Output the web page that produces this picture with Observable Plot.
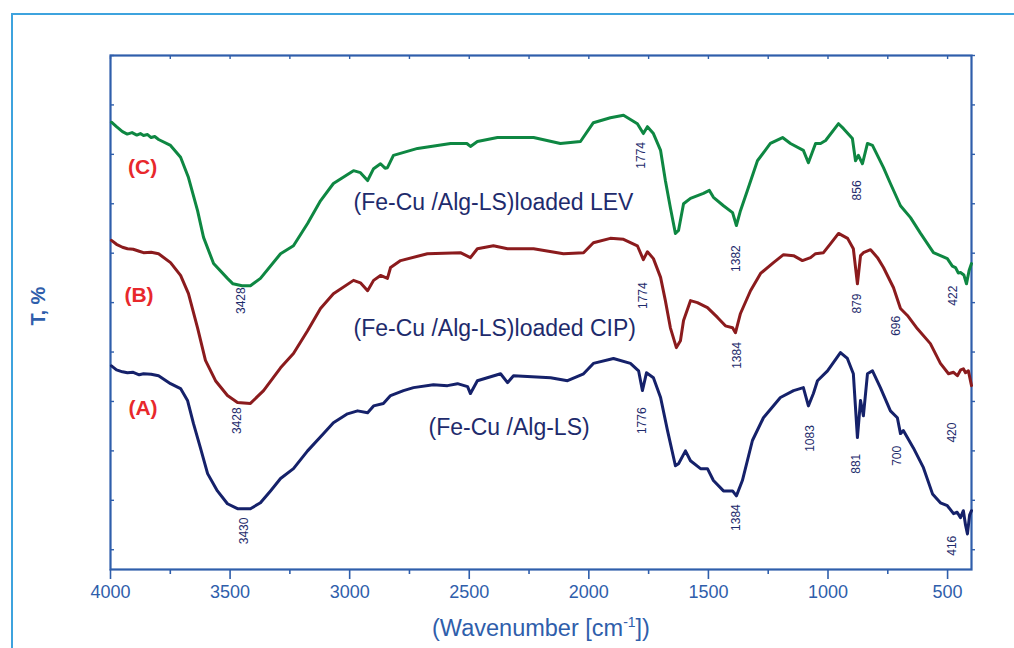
<!DOCTYPE html>
<html><head><meta charset="utf-8">
<script src="https://cdn.jsdelivr.net/npm/d3@7"></script>
<script src="https://cdn.jsdelivr.net/npm/@observablehq/plot@0.6"></script>
<style>
body{margin:0;background:#fff;}
#wrap{position:relative;width:1014px;height:648px;overflow:hidden;font-family:"Liberation Sans",Arial,sans-serif;}
#border{position:absolute;left:11px;top:13px;width:1100px;height:800px;border-top:2px solid #3ea3de;border-left:2px solid #3ea3de;box-sizing:border-box;}
#wrap svg{position:absolute;left:0;top:0;}
</style></head><body><div id="wrap"><div id="border"></div></div>
<script>
// ---- data: [wavenumber (cm-1), transmittance (arbitrary offset %)] ----
const seriesC = [[3996,86.5],[3975,85.6],[3950,84.6],[3930,84.1],[3910,84.4],[3890,83.9],[3875,84.2],[3862,83.8],[3845,84.0],[3830,83.4],[3815,83.6],[3799,83.0],[3749,81.8],[3707,79.4],[3674,75.3],[3636,68.6],[3611,63.2],[3569,57.9],[3511,54.9],[3488,53.8],[3450,53.4],[3415,53.4],[3373,54.9],[3289,59.9],[3235,61.5],[3176,66.0],[3122,70.6],[3068,74.1],[2984,76.7],[2955,76.3],[2925,74.7],[2900,77.1],[2871,78.1],[2852,77.2],[2842,77.3],[2817,79.8],[2716,81.2],[2578,82.2],[2510,82.2],[2495,81.6],[2466,82.6],[2382,83.4],[2340,83.4],[2231,83.4],[2119,82.2],[2035,82.6],[1981,86.4],[1910,87.4],[1855,87.9],[1797,86.2],[1772,84.2],[1755,85.6],[1730,84.2],[1700,80.8],[1680,74.7],[1659,69.2],[1638,64.0],[1625,64.6],[1604,70.0],[1575,71.1],[1521,72.1],[1496,72.7],[1479,71.3],[1437,69.6],[1399,68.2],[1383,65.6],[1366,68.6],[1337,72.7],[1295,78.7],[1241,82.2],[1190,83.4],[1157,82.2],[1103,80.8],[1082,78.3],[1052,82.2],[1031,82.2],[1010,82.8],[956,86.2],[935,85.2],[898,83.2],[885,78.7],[873,79.8],[856,78.1],[835,82.2],[814,81.8],[768,77.3],[739,74.1],[697,69.6],[655,67.2],[613,64.0],[559,60.1],[520,59.3],[501,58.9],[480,57.4],[467,57.1],[455,56.0],[446,56.1],[432,55.6],[421,53.8],[410,56.5],[400,57.9]];

const seriesB = [[3996,62.6],[3975,61.8],[3950,61.2],[3929,60.9],[3905,60.8],[3880,60.4],[3862,60.1],[3830,60.2],[3799,59.9],[3749,58.1],[3707,55.5],[3674,51.8],[3636,44.9],[3603,38.3],[3561,34.2],[3511,31.2],[3469,29.8],[3415,29.6],[3360,32.2],[3289,36.8],[3235,39.7],[3176,44.3],[3122,48.8],[3068,51.8],[2984,54.5],[2955,54.0],[2925,52.4],[2900,54.5],[2871,55.5],[2842,54.9],[2829,57.1],[2787,58.5],[2675,59.9],[2537,60.1],[2495,59.1],[2466,60.9],[2399,61.5],[2340,60.9],[2231,60.9],[2106,59.9],[2022,60.1],[1981,62.1],[1910,63.0],[1855,62.8],[1797,61.5],[1772,58.7],[1755,60.3],[1730,58.9],[1700,55.1],[1680,50.4],[1659,44.9],[1634,40.9],[1617,42.3],[1604,46.4],[1575,50.4],[1546,50.0],[1504,49.0],[1462,47.0],[1429,45.3],[1399,44.9],[1387,43.9],[1366,47.8],[1324,52.4],[1282,55.9],[1228,58.1],[1186,59.7],[1144,59.5],[1107,58.5],[1073,59.1],[1052,59.9],[1019,60.1],[990,61.9],[956,64.0],[918,63.0],[894,60.9],[877,53.8],[864,59.5],[852,60.1],[822,60.7],[793,59.1],[768,57.1],[726,53.0],[697,48.8],[668,47.4],[626,44.7],[572,41.7],[530,37.7],[496,35.6],[475,35.9],[459,35.2],[445,36.4],[434,36.6],[425,35.8],[413,36.2],[400,33.2]];

const seriesA = [[3996,37.2],[3975,36.4],[3950,36.0],[3929,35.8],[3905,35.9],[3880,35.4],[3862,35.6],[3830,35.5],[3799,35.2],[3749,33.6],[3707,32.6],[3678,30.2],[3653,25.5],[3624,20.6],[3594,15.4],[3553,11.9],[3511,9.3],[3469,8.3],[3415,8.3],[3373,9.5],[3331,11.9],[3289,14.4],[3235,16.4],[3176,20.0],[3109,23.5],[3068,25.7],[3009,27.5],[2967,28.1],[2925,27.7],[2900,29.1],[2859,29.6],[2829,31.2],[2775,32.2],[2733,32.8],[2650,33.4],[2591,33.2],[2549,33.6],[2507,33.0],[2495,31.6],[2466,34.2],[2369,35.6],[2340,33.8],[2315,35.2],[2160,34.8],[2089,34.2],[2022,35.6],[1981,37.7],[1897,38.7],[1826,37.7],[1792,36.2],[1776,32.2],[1759,35.8],[1730,34.8],[1700,30.8],[1671,24.1],[1638,17.0],[1625,17.4],[1596,20.0],[1575,18.0],[1533,16.4],[1504,16.4],[1479,14.0],[1437,11.9],[1399,11.9],[1383,10.9],[1358,14.0],[1316,22.1],[1270,26.7],[1199,30.8],[1144,32.2],[1103,32.8],[1082,29.1],[1061,31.6],[1044,34.2],[1002,36.2],[948,39.9],[919,38.7],[894,35.6],[877,22.7],[864,30.2],[852,27.1],[835,35.6],[814,36.2],[781,32.8],[739,28.1],[710,26.7],[697,23.5],[685,24.1],[643,20.6],[601,16.6],[563,11.3],[530,9.5],[501,8.9],[475,7.3],[460,7.6],[446,6.5],[434,7.9],[425,5.0],[417,3.2],[408,7.0],[400,7.9]];

// peak labels [x position, y position, text]
const peaksC = [[3452,50.4,"3428"],[1780,79.8,"1774"],[1383,58.9,"1382"],[877,72.7,"856"],[475,51.4,"422"]];
const peaksB = [[3469,26.1,"3428"],[1772,51.4,"1774"],[1379,39.3,"1384"],[877,49.8,"879"],[714,45.3,"696"],[480,23.7,"420"]];
const peaksA = [[3440,3.8,"3430"],[1776,26.1,"1776"],[1383,6.5,"1384"],[1073,22.5,"1083"],[881,17.4,"881"],[710,19.0,"700"],[480,0.8,"416"]];

// series tags and names
const tags = [[3866,77.3,"(C)"],[3881,51.4,"(B)"],[3864,28.7,"(A)"]];
const names = [[2984,70.2,"(Fe-Cu /Alg-LS)loaded LEV"],[2984,44.7,"(Fe-Cu /Alg-LS)loaded CIP)"],[2670,24.7,"(Fe-Cu /Alg-LS)"]];

const xMajor = [4000,3500,3000,2500,2000,1500,1000,500];
const xMinor = [3750,3250,2750,2250,1750,1250,750];
const yTicks = [0,10,20,30,40,50,60,70,80,90,100];
const xLabel = "(Wavenumber [cm-1])";
const yLabel = "T, %";

// ---- styles ----
const axisBlue = "#2f5eab";
const textNavy = "#1e2b6c";
const cGreen = "#0e8742", cRed = "#8b1b1d", cNavy = "#15216a", tagRed = "#e8282c";
const font = '"Liberation Sans", Arial, sans-serif';

const pk = (arr) => Plot.text(arr, {x: d => d[0], y: d => d[1], text: d => d[2], rotate: -90, fontSize: 12, fill: textNavy});

const chart = Plot.plot({
  width: 1014, height: 648,
  marginLeft: 110, marginRight: 43, marginTop: 55, marginBottom: 79,
  style: {fontFamily: font, background: "transparent", overflow: "visible"},
  x: {domain: [4000, 400]},
  y: {domain: [-4, 100]},
  marks: [
    Plot.axisX({ticks: xMajor, tickSize: 10, tickPadding: 6, fontSize: 18, stroke: axisBlue, fill: axisBlue, strokeWidth: 1.6, tickFormat: d => String(d), label: null}),
    Plot.axisX({ticks: xMinor, tickSize: 5, stroke: axisBlue, strokeWidth: 1.6, tickFormat: () => "", label: null}),
    Plot.axisX({anchor: "top", ticks: xMajor.concat(xMinor), tickSize: -3, stroke: axisBlue, strokeWidth: 1.4, tickFormat: () => "", label: null}),
    Plot.axisY({anchor: "left", ticks: yTicks, tickSize: -4, stroke: axisBlue, strokeWidth: 1.4, tickFormat: () => "", label: null}),
    Plot.axisY({anchor: "right", ticks: yTicks, tickSize: 3, stroke: axisBlue, strokeWidth: 1.4, tickFormat: () => "", label: null}),
    Plot.frame({stroke: axisBlue, strokeWidth: 2.2}),
    Plot.line(seriesC, {x: d => d[0], y: d => d[1], stroke: cGreen, strokeWidth: 3}),
    Plot.line(seriesB, {x: d => d[0], y: d => d[1], stroke: cRed, strokeWidth: 3}),
    Plot.line(seriesA, {x: d => d[0], y: d => d[1], stroke: cNavy, strokeWidth: 3}),
    pk(peaksC), pk(peaksB), pk(peaksA),
    Plot.text(tags, {x: d => d[0], y: d => d[1], text: d => d[2], fill: tagRed, fontWeight: "bold", fontSize: 21}),
    Plot.text(names, {x: d => d[0], y: d => d[1], text: d => d[2], fill: textNavy, fontSize: 23, textAnchor: "start"}),
    Plot.text([yLabel], {frameAnchor: "left", dx: -72, dy: 13, rotate: -90, fontWeight: "bold", fontSize: 20, fill: axisBlue}),
    Plot.text([xLabel], {frameAnchor: "bottom", dy: 66, fontSize: 23.5, fill: axisBlue})
  ]
});
document.getElementById("wrap").appendChild(chart);

// superscript on the axis label
d3.select(chart).selectAll("text").filter(function() { return this.textContent === xLabel; }).each(function() {
  const t = d3.select(this);
  t.text(null);
  t.append("tspan").text("(Wavenumber [cm");
  t.append("tspan").attr("font-size", 14).attr("dy", -9).text("-1");
  t.append("tspan").attr("dy", 9).text("])");
});
</script>
</body></html>
